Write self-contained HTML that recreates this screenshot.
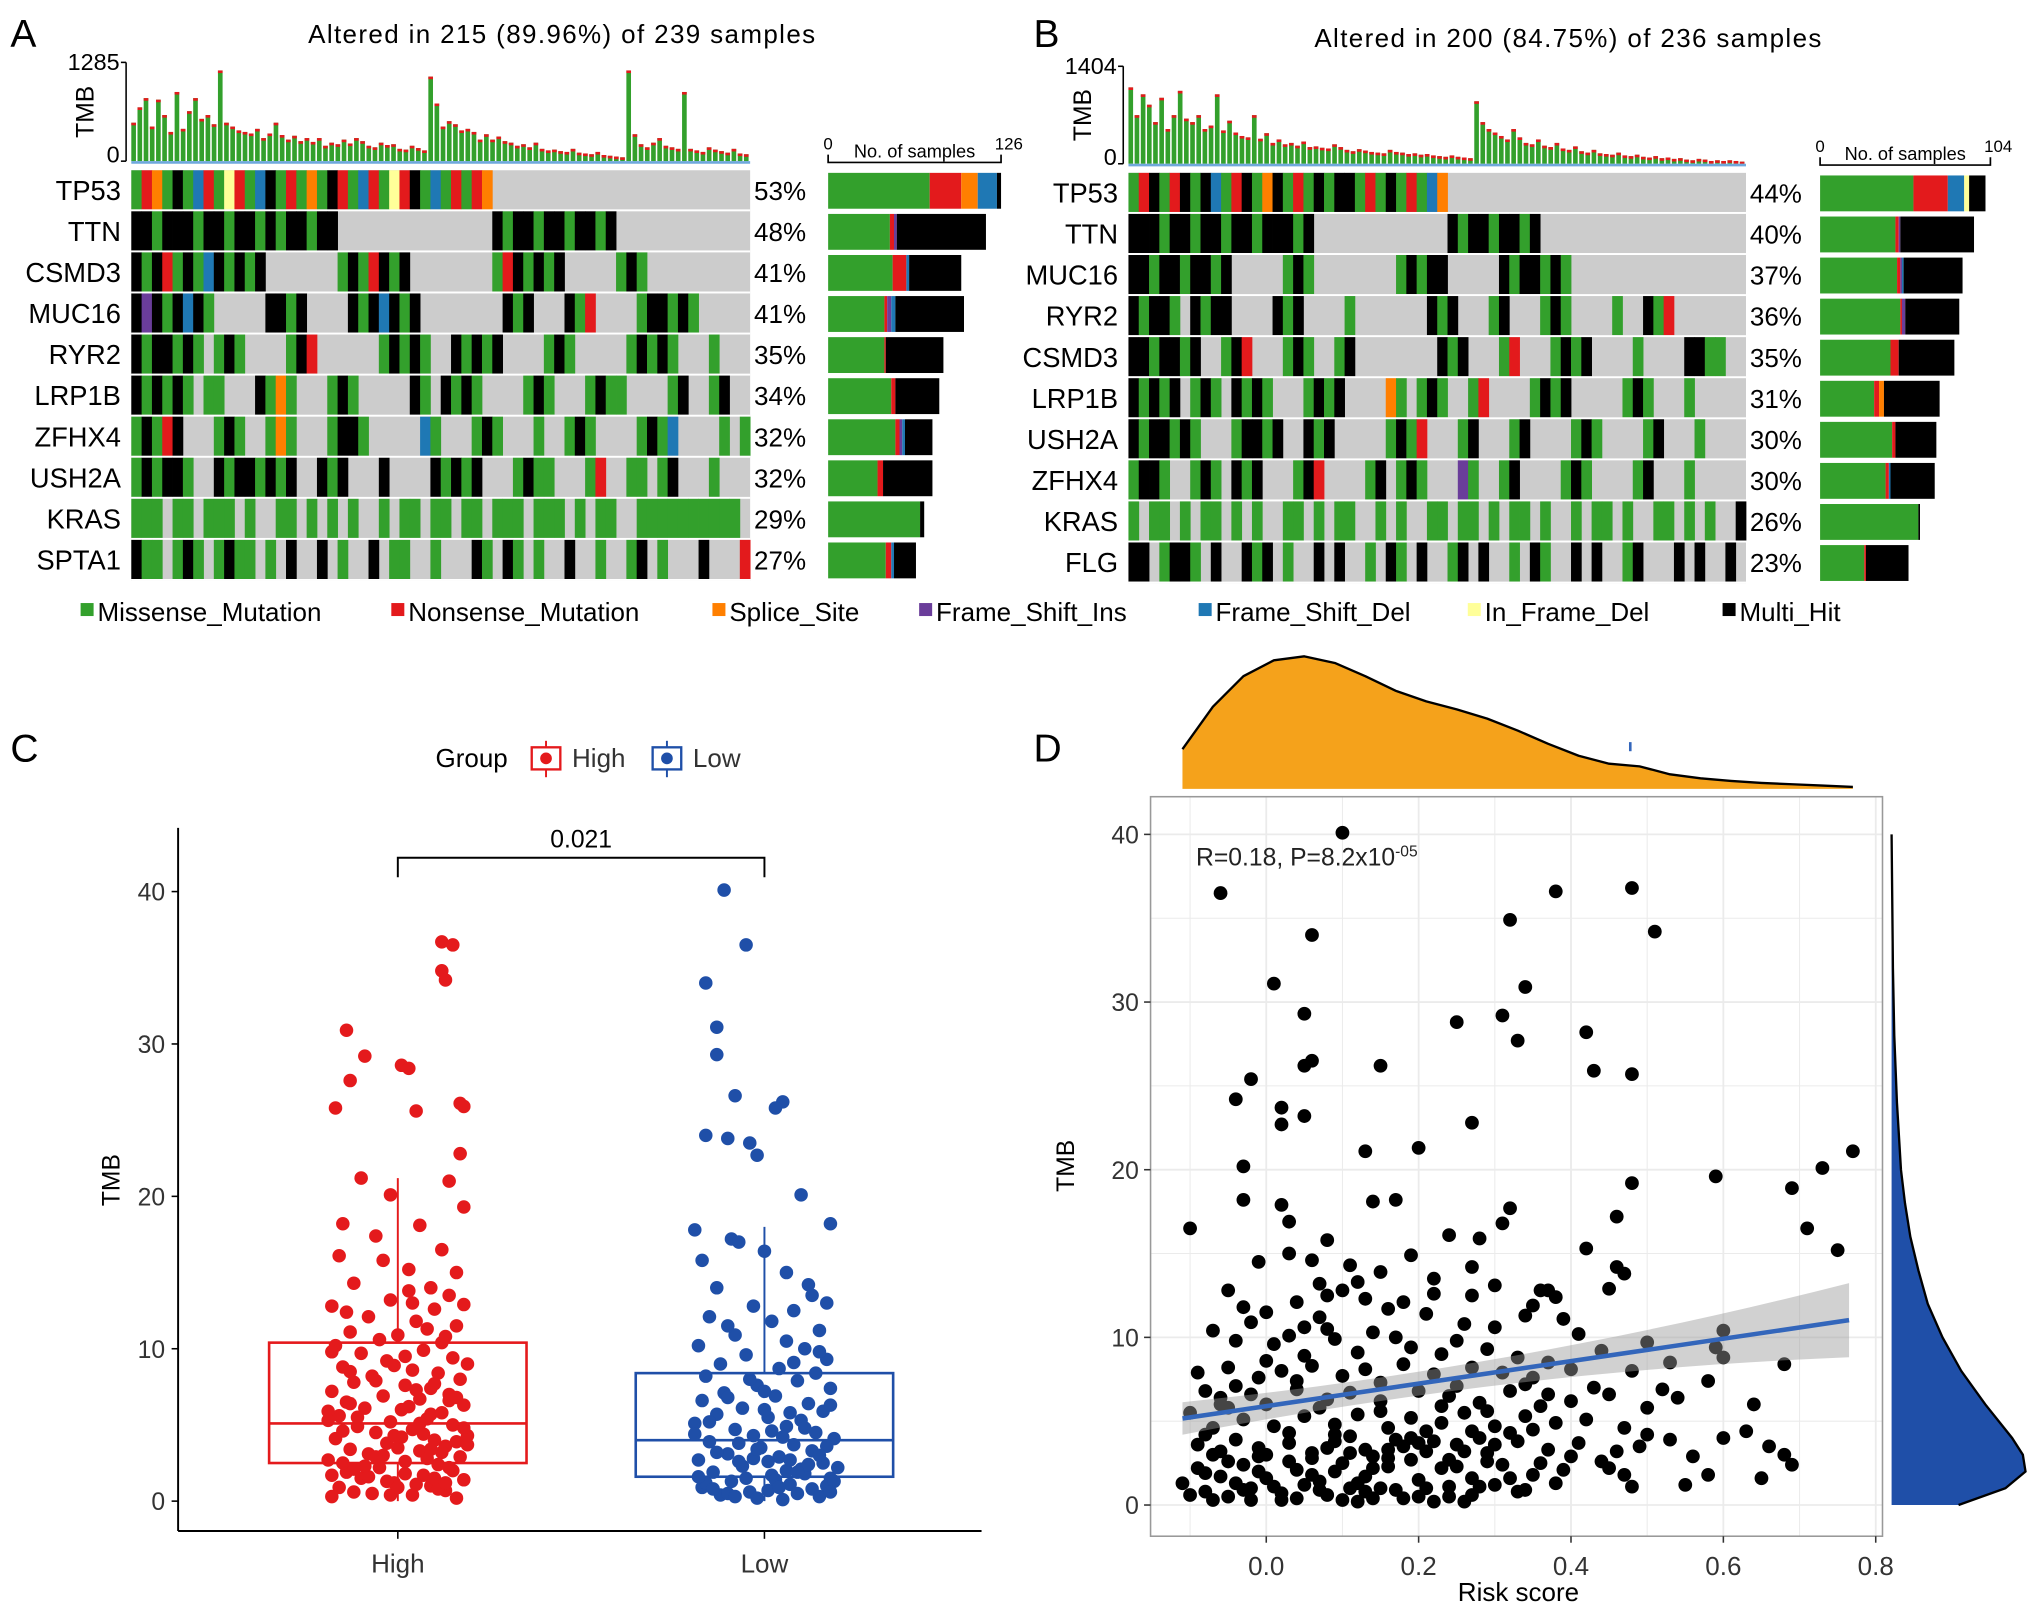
<!DOCTYPE html>
<html><head><meta charset="utf-8">
<style>
html,body{margin:0;padding:0;background:#fff;}
svg{display:block;font-family:"Liberation Sans",Arial,sans-serif;}
</style></head>
<body>
<svg id="fig" width="2032" height="1609" viewBox="0 0 1563 1238" preserveAspectRatio="none" xmlns="http://www.w3.org/2000/svg">
<rect x="0" y="0" width="1563" height="1238" fill="#fff"/>
<text x="8" y="36" font-size="30">A</text>
<text x="795" y="36" font-size="30">B</text>
<text x="8" y="586" font-size="30">C</text>
<text x="795" y="586" font-size="30">D</text>
<text x="432" y="33" font-size="20" text-anchor="middle" textLength="390">Altered in 215 (89.96%) of 239 samples</text>
<text x="1206" y="36" font-size="20" text-anchor="middle" textLength="390">Altered in 200 (84.75%) of 236 samples</text>
<g id="gA"></g>
<g id="gB"></g>
<g id="legend"></g>
<g id="gC"></g>
<g id="gD"></g>
</svg>
<script>
// ---------- Panel A/B data ----------
const typeColors = {g:'#33a02c',k:'#000000',r:'#e31a1c',o:'#ff7f00',b:'#1f78b4',p:'#6a3d9a',y:'#ffff99','.':'#cccccc'};
const genesA = ['TP53','TTN','CSMD3','MUC16','RYR2','LRP1B','ZFHX4','USH2A','KRAS','SPTA1'];
const pctA = ['53%','48%','41%','41%','35%','34%','32%','32%','29%','27%'];
const patA = [
 "grogkgbrgyrgbkgrgogkrgbrgyrkgbgrgro",
 "kkgkkkgkkgkkgkgkkgkk...............kgkkgkkgkkgk",
 "kgkrgkgbkgkgk.......gkgrkgk........grkgkgk.....gkg",
 "kpkgkbkg.....kkgk....kgkbkgk........kgk...kgr....gkkgkg",
 "kgkkgkg.gkg....gkr......gkgkg..kgkgk....gkg.....gkgkg...g",
 "kgkgkg.gg...kgog...gkg.....kg.kgkg....gkg...gkgg....gk..gk",
 "gkgrk...gkg..gog...gkkg.....bg...gkg...g..gkg....gkgb....g.g",
 "gkgkkg..kgkkgkgk..kgk...k....kgkgk...gkgg...gr..gg.gk...g",
 "ggg.gg.ggg.g..gg.g.g.g..g.gg.gg.gg.ggg.ggg.g.gg..gggggggggg.",
 "kgg.gkg.gkgg.g.k..k.g..k.gg..g...kg.kg.g..k..g..gk.g...k...r"
];
const barsA = [[74,23,12,0,14,0,3],[45,3,0,2,0,0,65],[47,10,0,0,2,0,38],[41,2,0,3,3,0,50],[41,1,0,0,0,0,42],[46,3,0,0,0,0,32],[49,3,0,2,2,0,20],[36,4,0,0,0,0,36],[67,0,0,0,0,0,3],[42,4,0,0,2,0,16]];
const tmbA = [500,700,820,450,800,600,380,900,420,650,820,550,600,480,1180,500,450,400,380,360,420,300,360,500,340,280,330,260,300,250,300,200,240,220,280,230,300,260,200,180,240,210,220,160,150,200,170,140,1100,750,450,520,480,400,420,380,280,350,280,320,260,240,200,220,180,240,160,140,150,130,120,160,110,100,90,120,80,70,60,50,1180,350,220,180,240,300,200,180,160,900,160,140,120,180,150,130,110,160,100,90];
const genesB = ['TP53','TTN','MUC16','RYR2','CSMD3','LRP1B','USH2A','ZFHX4','KRAS','FLG'];
const pctB = ['44%','40%','37%','36%','35%','31%','30%','30%','26%','23%'];
const patB = [
 "grkgrkgkbgrkgokgrgkgkkgrgkgrgbo",
 "kkkgkkgkkgkkgkkkgk.............kgkkgkkgk",
 "kkgkkgkkgk.....gkg........gkgkk.....kgkkgkg",
 "kgkkg.kgkk....kgk....g.......kgk...gk...gkg....g..kgr",
 "kkgkkgk..gkr...gkg..gk........kgk...gr...gkgk....g....kkgg",
 "kgkgk.gkg.kgkg...gkgk....og.gkg..gr....gkgk.....gkg...g",
 "kgkkgkg...gkkgk..kgk.....gkgr...gk...gk....gkg....gk...g",
 "gkkg..gkg.kgk...gkr....gk.gkg...pg..gk....gkg....gk...g",
 "g.gg.g.gg.g.g..gg.g.gg..g.g..gg.gg.g.gg.g..g.gg.g..gg.g.g..k",
 "kk.gkkg.k..kgk.g..k.k..g.kg.k..gk.k..g.kg..k.k..gk...k.k..k."
];
const barsB = [[57,21,0,0,10,3,10],[46,2,0,1,0,0,45],[47,2,0,1,1,0,36],[49,1,0,2,0,0,33],[43,5,0,0,0,0,34],[33,3,3,0,0,0,34],[44,2,0,0,0,0,25],[40,2,0,0,1,0,27],[60,0,0,0,0,0,1],[27,1,0,0,0,0,26]];
const tmbB = [1100,700,1000,850,600,950,500,700,1050,650,600,700,500,550,1000,480,620,450,400,380,700,360,440,300,350,280,300,260,320,240,250,230,220,280,240,200,180,210,190,170,160,150,200,170,160,140,150,130,140,120,110,100,120,100,90,80,900,600,500,450,400,350,500,380,300,280,350,260,240,300,220,200,250,180,160,200,150,140,130,160,120,110,130,100,90,110,80,90,70,80,60,50,70,60,40,50,40,50,40,30];
const colOrder = ['g','r','o','p','b','y','k'];

const NS='http://www.w3.org/2000/svg';
function mk(tag, attrs, parent){const e=document.createElementNS(NS,tag);for(const k in attrs)e.setAttribute(k,attrs[k]);parent.appendChild(e);return e;}

function drawOnco(g, cfg){
  const {x0,x1,y0,rowH,genes,pct,pat,bars,tmb,tmbMax,tmbTop,tmbBot,bx0,bw,bmax,labelMax} = cfg;
  const ncol=60, cw=(x1-x0)/ncol;
  const tw=(x1-x0)/tmb.length;
  tmb.forEach((v,i)=>{
    const h=v/tmbMax*(tmbBot-tmbTop);
    const r=mk('rect',{x:x0+i*tw,y:tmbBot-h,width:tw*0.75,height:h,fill:'#33a02c'},g);
    
    
    const t=mk('rect',{x:x0+i*tw,y:tmbBot-h,width:tw*0.75,height:Math.min(2,h),fill:'#e31a1c'},g);
    
    
  });
  mk('line',{x1:x0-4,y1:tmbTop,x2:x0-4,y2:tmbBot,stroke:'#000','stroke-width':1.2},g);
  mk('line',{x1:x0-8,y1:tmbTop,x2:x0-4,y2:tmbTop,stroke:'#000','stroke-width':1.2},g);
  mk('line',{x1:x0-8,y1:tmbBot,x2:x0-4,y2:tmbBot,stroke:'#000','stroke-width':1.2},g);
  mk('line',{x1:x0,y1:tmbBot+1,x2:x1,y2:tmbBot+1,stroke:'#6fa8dc','stroke-width':2},g);
  let t=mk('text',{x:x0-9,y:tmbTop+6,'font-size':18,'text-anchor':'end'},g);t.textContent=labelMax;
  t=mk('text',{x:x0-9,y:tmbBot+1,'font-size':18,'text-anchor':'end'},g);t.textContent='0';
  t=mk('text',{x:0,y:0,'font-size':19,'text-anchor':'middle',transform:`translate(${x0-29},${(tmbTop+tmbBot)/2}) rotate(-90)`},g);t.textContent='TMB';
  mk('rect',{x:x0,y:y0,width:x1-x0,height:rowH*10,fill:'#cccccc'},g);
  genes.forEach((gn,r)=>{
    const y=y0+r*rowH;
    const s=pat[r];
    for(let c=0;c<ncol && c<s.length;c++){
      const ch=s[c]; if(ch==='.') continue;
      const cell=mk('rect',{x:x0+c*cw,y:y,width:cw+0.3,height:rowH-1.5,fill:typeColors[ch]},g);
      
      
    }
    mk('rect',{x:x0,y:y+rowH-1.5,width:x1-x0,height:1.5,fill:'#fff'},g);
    const lb=mk('text',{x:x0-8,y:y+rowH/2+7,'font-size':21,'text-anchor':'end'},g);lb.textContent=gn;
    
    
    const pc=mk('text',{x:x1+3,y:y+rowH/2+7,'font-size':20},g);pc.textContent=pct[r];
    
    
    let bx=bx0;
    bars[r].forEach((v,k)=>{
      if(!v) return;
      const w=v/bmax*bw;
      const seg=mk('rect',{x:bx,y:y+2,width:w,height:rowH-4,fill:typeColors[colOrder[k]]},g);
      
      
      bx+=w;
    });
  });
  const sy=y0-6;
  mk('path',{d:`M${bx0},${sy-6}V${sy}H${bx0+bw}V${sy-6}`,fill:'none',stroke:'#000','stroke-width':1.3},g);
  t=mk('text',{x:bx0,y:sy-10,'font-size':13,'text-anchor':'middle'},g);t.textContent='0';
  t=mk('text',{x:bx0+bw/2,y:sy-4,'font-size':14,'text-anchor':'middle'},g);t.textContent='No. of samples';
  t=mk('text',{x:bx0+bw+6,y:sy-10,'font-size':13,'text-anchor':'middle'},g);t.textContent=String(bmax);
}
drawOnco(document.getElementById('gA'),{x0:101,x1:577,y0:131,rowH:31.6,genes:genesA,pct:pctA,pat:patA,bars:barsA,tmb:tmbA,tmbMax:1285,tmbTop:48,tmbBot:124,bx0:637,bw:133,bmax:126,labelMax:'1285'});
drawOnco(document.getElementById('gB'),{x0:868,x1:1343,y0:133,rowH:31.6,genes:genesB,pct:pctB,pat:patB,bars:barsB,tmb:tmbB,tmbMax:1404,tmbTop:51,tmbBot:126,bx0:1400,bw:131,bmax:104,labelMax:'1404'});

const legNames=['Missense_Mutation','Nonsense_Mutation','Splice_Site','Frame_Shift_Ins','Frame_Shift_Del','In_Frame_Del','Multi_Hit'];
const legCols=['g','r','o','p','b','y','k'];
const legX=[62,301,548,707,922,1129,1325];
(function(){
  const g=document.getElementById('legend');
  legNames.forEach((n,i)=>{
    const it=mk('g',{},g);
    
    
    mk('rect',{x:legX[i],y:464,width:10,height:10,fill:typeColors[legCols[i]]},it);
    const t=mk('text',{x:legX[i]+13,y:478,'font-size':20},it);t.textContent=n;
  });
})();

// ---------- Panel C data ----------
const groupsC=['High','Low'];
const ticksC=[0,10,20,30,40];
const boxStats={High:[2.5,5.1,10.4,0,21.2],Low:[1.6,4.0,8.4,0,18.0]};
const highPts=[[36.7,.12],[36.5,.15],[34.8,.12],[34.2,.13],[30.9,-.14],[29.2,-.09],[28.6,.01],[28.4,.03],[27.6,-.13],[26.1,.17],[25.9,.18],[25.8,-.17],[25.6,.05],[22.8,.17],[21.2,-.1],[21,.14],[20.1,-.02],[19.3,.18],[18.2,-.15],[18.1,.06],[17.4,-.06],[16.5,.12],[16.1,-.16],[15.8,-.04],[15.2,.03],[15,.16],[14.3,-.12],[14,.09],[13.8,.03],[13.5,.14],[13.2,-.02],[12.9,.18],[12.8,-.18],[12.6,.1],[12.1,-.08],[11.8,.05],[11.5,.16],[11.1,-.13],[10.9,0],[10.6,-.05],[10.4,.12],[10.2,-.17],[9.9,.07],[9.7,-.1],[9.4,.15],[9.2,-.03],[9,.19],[8.8,-.15],[8.6,.04],[8.4,.11],[8.2,-.07],[8,.17],[7.8,-.12],[7.6,.02],[7.4,.09],[7.2,-.18],[7,.14],[6.9,-.04],[6.7,.06],[6.5,-.14],[6.3,.18],[6.1,-.09],[6,.01],[5.8,.12],[5.6,-.16],[5.4,.08],[5.2,-.02],[5,.15],[4.9,-.11],[4.7,.04],[4.5,-.06],[4.3,.19],[4.1,-.17],[4,.1],[3.8,-.03],[3.6,.13],[3.4,-.13],[3.3,.06],[3.1,-.08],[2.9,.17],[2.7,-.19],[2.6,.02],[2.4,.11],[2.2,-.05],[2,.15],[1.9,-.14],[1.7,.07],[1.5,-.1],[1.4,.18],[1.2,-.01],[1,.09],[.9,-.16],[.7,.13],[.5,-.07],[.4,.04],[.3,-.18],[.2,.16],[3.5,0],[4.4,.07],[5.5,-.11],[6.6,.14],[2.1,-.12],[1.1,.05],[7.7,.1],[3,-.04],[5.9,-.19],[4.8,.18],[2.8,.08],[1.6,-.08],[6.2,.03],[8.9,-.01],[10.8,.13],[12.4,-.14],[3.9,.16],[2.5,-.15],[.8,.11],[1.3,-.03],[9.5,.02],[7.9,-.06],[6.8,.16],[5.3,-.19],[4.2,.01],[3.2,.12],[2.3,-.09],[1.8,.02],[.6,-.12],[11.3,.08],[13,.04],[9.8,-.18],[8.5,-.13],[7.3,.05],[5.7,.09],[4.6,-.15],[3.7,.19],[2.2,.14],[1.5,.1],[.4,-.02],[1.2,.13],[2.9,-.06],[4.3,-.01],[5.1,.06],[6.4,-.13],[3.4,.09],[0.9,.0],[1.7,-.18]];
const lowPts=[[40.1,-.11],[36.5,-.05],[34,-.16],[31.1,-.13],[29.3,-.13],[26.6,-.08],[26.2,.05],[25.8,.03],[24,-.16],[23.8,-.1],[23.5,-.04],[22.7,-.02],[20.1,.1],[18.2,.18],[17.8,-.19],[17.2,-.09],[17,-.07],[16.4,0],[15.8,-.17],[15,.06],[14.2,.12],[14,-.13],[13.5,.13],[12.8,-.03],[12.5,.08],[12.1,-.15],[11.8,.02],[11.2,.15],[10.9,-.08],[10.5,.06],[10.2,-.18],[10,.11],[9.6,-.05],[9.3,.17],[9,-.12],[8.7,.04],[8.4,.14],[8.2,-.16],[7.9,.09],[7.6,-.02],[7.4,.18],[7.1,-.11],[6.9,.03],[6.6,-.17],[6.4,.12],[6.1,-.06],[5.9,.16],[5.7,-.13],[5.5,.01],[5.3,.1],[5.1,-.19],[4.9,.06],[4.7,-.08],[4.5,.14],[4.3,-.03],[4.1,.19],[3.9,-.15],[3.7,.08],[3.5,-.01],[3.3,.13],[3.1,-.1],[2.9,.04],[2.7,-.18],[2.5,.16],[2.3,-.06],[2.1,.1],[1.9,-.14],[1.7,.02],[1.5,.18],[1.3,-.09],[1.1,.07],[.9,-.17],[.8,.13],[.6,-.04],[.5,.09],[.4,-.12],[.3,.15],[.2,-.02],[.1,.05],[3.6,.17],[2.6,-.07],[1.8,.11],[1.2,-.16],[.7,.01],[4.4,-.19],[5.8,.07],[6.8,-.1],[2.2,.2],[1.4,.03],[3.2,-.13],[4.8,.11],[2.8,-.03],[1,.17],[.5,-.1],[1.6,-.18],[2,.06],[3,.15],[3.8,-.07],[4.6,.02],[5.2,-.15],[6.3,.18],[7.2,0],[8,-.04],[9.1,.08],[2.4,.12],[1.3,.19],[.3,-.08],[.9,.04],[13,.17],[11.5,-.1],[9.8,.15],[1.9,.09],[2.6,.01],[.6,.18],[3.4,-.02],[1.5,-.05],[2.7,.07],[4.2,.05],[0.8,-.14],[6,.0]];

(function(){
  const g=document.getElementById('gC');
  const yS=v=>1155-v*11.725;
  const xS=i=>306+i*282;
  mk('line',{x1:137,y1:637,x2:137,y2:1178,stroke:'#000','stroke-width':1.5},g);
  mk('line',{x1:137,y1:1178,x2:755,y2:1178,stroke:'#000','stroke-width':1.5},g);
  ticksC.forEach(v=>{
    mk('line',{x1:132,y1:yS(v),x2:137,y2:yS(v),stroke:'#000','stroke-width':1.2},g);
    const t=mk('text',{x:127,y:yS(v)+7,'font-size':19,'text-anchor':'end',fill:'#333'},g);t.textContent=String(v);
    
    
  });
  const yt=mk('text',{x:0,y:0,'font-size':19,'text-anchor':'middle',transform:'translate(92,908) rotate(-90)'},g);yt.textContent='TMB';
  
  
  const cols={High:'#e41a1c',Low:'#1f4fa8'};
  const pts={High:highPts,Low:lowPts};
  groupsC.forEach((gr,i)=>{
    const cx=xS(i), s=boxStats[gr], col=cols[gr];
    mk('line',{x1:cx,y1:1178,x2:cx,y2:1184,stroke:'#000','stroke-width':1.2},g);
    const xl=mk('text',{x:cx,y:1210,'font-size':20,'text-anchor':'middle',fill:'#333'},g);xl.textContent=gr;
    
    
    const bg=mk('g',{},g);
    
    
    mk('line',{x1:cx,y1:yS(s[4]),x2:cx,y2:yS(s[2]),stroke:col,'stroke-width':1.5},bg);
    mk('line',{x1:cx,y1:yS(s[0]),x2:cx,y2:yS(s[3]),stroke:col,'stroke-width':1.5},bg);
    mk('rect',{x:cx-99,y:yS(s[2]),width:198,height:yS(s[0])-yS(s[2]),fill:'none',stroke:col,'stroke-width':2},bg);
    mk('line',{x1:cx-99,y1:yS(s[1]),x2:cx+99,y2:yS(s[1]),stroke:col,'stroke-width':2},bg);
    pts[gr].forEach(p=>{
      const c=mk('circle',{cx:cx+p[1]*282,cy:yS(p[0]),r:5.2,fill:col},g);
      
      
    });
  });
  mk('path',{d:`M306,675V660H588V675`,fill:'none',stroke:'#000','stroke-width':1.5},g);
  const pv=mk('text',{x:447,y:652,'font-size':19,'text-anchor':'middle'},g);pv.textContent='0.021';
  
  
  const lg=mk('g',{},g);
  
  
  let t=mk('text',{x:335,y:590,'font-size':20},lg);t.textContent='Group';
  [['High',420,'#e41a1c'],['Low',513,'#1f4fa8']].forEach(([n,x,c])=>{
    const e=mk('g',{},lg);
    
    
    mk('line',{x1:x,y1:570,x2:x,y2:598,stroke:c,'stroke-width':1.5},e);
    mk('rect',{x:x-11,y:575,width:22,height:17,fill:'#fff',stroke:c,'stroke-width':1.8},e);
    mk('circle',{cx:x,cy:583.5,r:4.5,fill:c},e);
    const tt=mk('text',{x:x+20,y:590,'font-size':20,fill:'#333'},e);tt.textContent=n;
  });
})();

// ---------- Panel D data ----------
const xTicksD=[0,0.2,0.4,0.6,0.8];
const yTicksD=[0,10,20,30,40];
const fitD=[5.9,6.7];
const densTopX=[-0.11,-0.07,-0.03,0.01,0.05,0.09,0.13,0.17,0.21,0.25,0.29,0.33,0.37,0.41,0.45,0.49,0.53,0.57,0.61,0.65,0.69,0.73,0.77];
const densTopY=[0.3,0.62,0.85,0.97,1.0,0.95,0.85,0.74,0.66,0.6,0.53,0.44,0.34,0.25,0.19,0.17,0.11,0.08,0.06,0.045,0.035,0.025,0.015];
const densRightT=[0,1,2,3,4,6,8,10,12,14,16,18,20,24,28,32,36,40];
const densRightD=[0.5,0.85,1.0,0.98,0.9,0.7,0.52,0.38,0.27,0.2,0.14,0.1,0.07,0.04,0.02,0.01,0.005,0];
const pointsD=[[0.1,40.1],[-0.06,36.5],[0.38,36.6],[0.48,36.8],[0.32,34.9],[0.51,34.2],[0.06,34],[0.34,30.9],[0.01,31.1],[0.31,29.2],[0.05,29.3],[0.25,28.8],[0.33,27.7],[0.42,28.2],[0.06,26.5],[0.05,26.2],[0.15,26.2],[-0.02,25.4],[0.43,25.9],[0.48,25.7],[-0.04,24.2],[0.02,23.7],[0.05,23.2],[0.02,22.7],[0.27,22.8],[0.2,21.3],[0.13,21.1],[0.77,21.1],[0.73,20.1],[-0.03,20.2],[0.59,19.6],[0.48,19.2],[0.69,18.9],[-0.03,18.2],[0.14,18.1],[0.17,18.2],[0.32,17.7],[0.02,17.9],[0.71,16.5],[-0.1,16.5],[0.75,15.2],[0.24,16.1],[0.28,15.9],[0.42,15.3],[0.46,17.2],[0.03,16.9],[0.08,15.8],[0.31,16.8],[0.47,13.8],[0.45,12.9],[0.46,14.2],[0.06,14.6],[-0.01,14.5],[0.03,15],[0.19,14.9],[0.22,13.5],[0.12,13.3],[0.1,12.8],[0.08,12.5],[0.04,12.1],[-0.05,12.8],[-0.03,11.8],[0.0,11.5],[0.13,12.3],[0.18,12.1],[0.22,12.6],[0.27,12.5],[0.3,13.1],[0.36,12.8],[0.38,12.4],[0.35,11.9],[0.34,11.3],[0.39,11.1],[0.41,10.2],[0.3,10.6],[0.26,10.8],[0.21,11.4],[0.16,11.7],[0.07,11.2],[0.05,10.6],[-0.02,10.9],[-0.07,10.4],[-0.04,9.8],[0.01,9.6],[0.03,10.1],[0.09,9.9],[0.14,10.3],[0.19,9.4],[0.25,9.8],[0.29,9.3],[0.33,8.8],[0.37,8.5],[0.44,9.2],[0.5,9.7],[0.59,9.4],[0.6,10.4],[0.6,8.8],[0.68,8.4],[0.53,8.5],[0.48,8.0],[0.4,8.1],[0.35,7.6],[0.31,7.9],[0.27,8.2],[0.22,7.8],[0.18,8.4],[0.13,8.1],[0.1,7.7],[0.06,8.3],[0.02,8.0],[-0.01,7.6],[-0.05,8.2],[-0.09,7.9],[-0.08,6.8],[-0.06,6.4],[-0.02,6.6],[0.0,6.0],[0.04,6.9],[0.08,6.3],[0.11,6.7],[0.15,6.2],[0.2,6.8],[0.24,6.5],[0.28,6.1],[0.32,6.8],[0.36,5.9],[0.4,6.2],[0.45,6.6],[0.5,5.8],[0.54,6.4],[0.64,6.0],[0.63,4.4],[0.47,4.6],[0.42,5.1],[0.38,4.9],[0.34,5.3],[0.3,4.7],[0.26,5.5],[0.23,4.9],[0.19,5.2],[0.16,4.6],[0.12,5.4],[0.09,4.8],[0.05,5.3],[0.01,4.7],[-0.03,5.1],[-0.07,4.6],[-0.1,5.5],[-0.09,3.6],[-0.06,3.2],[-0.04,3.9],[-0.01,3.4],[0.03,3.7],[0.06,3.1],[0.09,3.8],[0.13,3.3],[0.17,3.9],[0.21,3.2],[0.25,3.6],[0.29,3.1],[0.33,3.8],[0.37,3.3],[0.4,2.9],[0.46,3.2],[0.49,3.5],[0.56,2.9],[0.6,4.0],[0.66,3.5],[0.69,2.4],[0.68,3.0],[0.55,1.2],[0.58,1.8],[0.48,1.1],[0.47,1.8],[0.44,2.6],[0.39,2.1],[0.35,1.8],[0.31,2.4],[0.27,1.6],[0.23,2.2],[0.2,1.5],[0.16,2.3],[0.13,1.7],[0.1,2.5],[0.07,1.4],[0.04,2.1],[0.0,1.6],[-0.03,2.4],[-0.06,1.7],[-0.09,2.2],[-0.11,1.3],[-0.08,0.8],[-0.05,0.5],[-0.02,1.0],[0.02,0.7],[0.05,1.2],[0.08,0.6],[0.11,1.0],[0.14,0.4],[0.17,0.9],[0.2,0.5],[0.24,1.1],[0.27,0.6],[0.3,1.2],[0.33,0.8],[0.22,0.2],[0.12,0.2],[0.02,0.3],[-0.07,0.3],[0.06,2.8],[0.14,2.9],[0.24,2.7],[-0.01,2.9],[0.18,3.5],[0.09,4.2],[0.28,4.0],[0.21,4.4],[0.32,4.3],[0.41,3.7],[0.15,7.3],[0.04,7.4],[0.25,7.1],[0.34,7.2],[0.43,7.0],[-0.04,7.1],[0.08,10.5],[0.17,10.0],[0.23,9.0],[0.12,9.1],[0.0,8.6],[0.05,8.9],[0.27,14.2],[0.11,14.3],[0.15,13.9],[0.37,12.8],[0.07,13.2],[-0.06,6.0],[0.29,5.6],[0.37,6.6],[0.5,4.2],[0.45,2.2],[0.52,6.9],[0.58,7.4],[0.65,1.6],[0.53,3.9],
[-0.1,0.6],[-0.08,1.9],[-0.07,3.0],[-0.05,2.6],[-0.04,1.3],[-0.02,0.3],[-0.01,2.0],[0.01,1.1],[0.03,2.6],[0.04,0.4],[0.06,1.8],[0.07,0.9],[0.09,2.0],[0.1,0.3],[0.11,3.1],[0.12,1.3],[0.14,2.2],[0.15,1.0],[0.16,3.3],[0.18,0.4],[0.19,2.7],[0.21,1.0],[0.22,3.8],[0.24,0.5],[0.25,2.3],[0.26,3.2],[0.28,1.1],[0.29,2.6],[0.32,1.6],[0.34,0.9],[0.36,2.5],[0.38,1.3],[0.03,4.3],[0.07,5.8],[0.11,4.1],[0.15,5.6],[0.19,4.0],[0.23,5.9],[0.27,4.4],[-0.08,4.2],[-0.05,5.8],[0.0,3.0],[0.08,3.4],[0.16,2.8],[0.2,3.7],[0.3,3.6],[0.35,4.5],[-0.03,0.9],[0.13,0.8],[0.26,0.2]];

(function(){
  const g=document.getElementById('gD');
  const xS=v=>974+v*586, yS=v=>1158-v*12.9;
  const L=885,R=1448,T=613,B=1182;
  mk('rect',{x:L,y:T,width:R-L,height:B-T,fill:'#fff'},g);
  for(let v=-0.1;v<=0.81;v+=0.1){const x=xS(v); if(x<L||x>R) continue; mk('line',{x1:x,y1:T,x2:x,y2:B,stroke:'#ebebeb','stroke-width':Math.abs(Math.round(v*10))%2===0?1.4:0.8},g);}
  for(let v=-5;v<=45;v+=5){const y=yS(v); if(y<T||y>B) continue; mk('line',{x1:L,y1:y,x2:R,y2:y,stroke:'#ebebeb','stroke-width':v%10===0?1.4:0.8},g);}
  mk('rect',{x:L,y:T,width:R-L,height:B-T,fill:'none',stroke:'#999','stroke-width':1.2},g);
  xTicksD.forEach(v=>{
    mk('line',{x1:xS(v),y1:B,x2:xS(v),y2:B+5,stroke:'#333','stroke-width':1.2},g);
    const t=mk('text',{x:xS(v),y:B+30,'font-size':20,'text-anchor':'middle',fill:'#333'},g);t.textContent=v.toFixed(1);
    
    
  });
  yTicksD.forEach(v=>{
    mk('line',{x1:L-5,y1:yS(v),x2:L,y2:yS(v),stroke:'#333','stroke-width':1.2},g);
    const t=mk('text',{x:L-9,y:yS(v)+7,'font-size':19,'text-anchor':'end',fill:'#333'},g);t.textContent=String(v);
    
    
  });
  let t=mk('text',{x:1168,y:1232,'font-size':20,'text-anchor':'middle'},g);t.textContent='Risk score';
  
  
  t=mk('text',{x:0,y:0,'font-size':19,'text-anchor':'middle',transform:'translate(826,897) rotate(-90)'},g);t.textContent='TMB';
  
  
  pointsD.forEach(p=>{
    const c=mk('circle',{cx:xS(p[0]),cy:yS(p[1]),r:5.3,fill:'#000'},g);
    
    
  });
  const xa=-0.11,xb=0.765,fx=v=>fitD[0]+fitD[1]*v;
  const ci=v=>0.7+4*Math.pow(v-0.15,2);
  let up=[],dn=[];
  for(let i=0;i<=20;i++){const v=xa+(xb-xa)*i/20;up.push(`${xS(v)},${yS(fx(v)+ci(v))}`);dn.unshift(`${xS(v)},${yS(fx(v)-ci(v))}`);}
  const band=mk('polygon',{points:up.concat(dn).join(' '),fill:'#999','fill-opacity':0.45},g);
  
  
  const ln=mk('line',{x1:xS(xa),y1:yS(fx(xa)),x2:xS(xb),y2:yS(fx(xb)),stroke:'#3366bb','stroke-width':3.5},g);
  
  
  const an=mk('text',{x:920,y:666,'font-size':19,fill:'#222'},g);
  
  
  an.textContent='R=0.18, P=8.2x10';
  const sp=mk('tspan',{dy:-7,'font-size':12},an);sp.textContent='-05';
  const base=607, pk=102;
  let d=`M${xS(densTopX[0])},${base}`;
  densTopX.forEach((v,i)=>{d+=` L${xS(v)},${base-densTopY[i]*pk}`;});
  d+=` L${xS(densTopX[densTopX.length-1])},${base}Z`;
  const dt=mk('path',{d:d,fill:'#f5a21b',stroke:'none'},g);
  
  
  let d2='';densTopX.forEach((v,i)=>{d2+=(i?' L':'M')+`${xS(v)},${base-densTopY[i]*pk}`;});
  mk('path',{d:d2,fill:'none',stroke:'#000','stroke-width':1.8,'stroke-linejoin':'round'},g);
  mk('line',{x1:1254,y1:571,x2:1254,y2:578,stroke:'#3366bb','stroke-width':2},g);
  const bx=1455, pw=103;
  let d3=`M${bx},${yS(densRightT[0])}`;
  densRightT.forEach((v,i)=>{d3+=` L${bx+densRightD[i]*pw},${yS(v)}`;});
  d3+=` L${bx},${yS(40)}Z`;
  const dr=mk('path',{d:d3,fill:'#1f4fa8'},g);
  
  
  let d4='';densRightT.forEach((v,i)=>{d4+=(i?' L':'M')+`${bx+densRightD[i]*pw},${yS(v)}`;});
  mk('path',{d:d4,fill:'none',stroke:'#000','stroke-width':1.8},g);
})();
</script>
</body></html>
